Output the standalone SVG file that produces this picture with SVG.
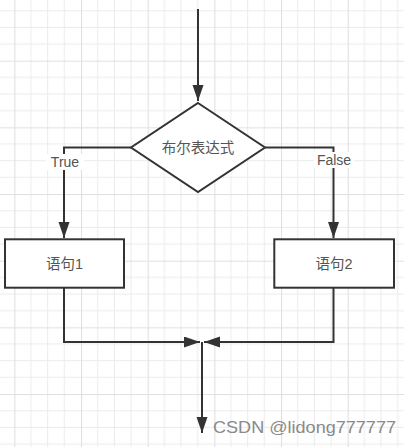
<svg xmlns="http://www.w3.org/2000/svg" width="404" height="447" viewBox="0 0 404 447">
<style>
.ln{fill:none;stroke:#333;stroke-width:2}
.shape{fill:#fff;stroke:#333;stroke-width:2}
.t{font-family:"Liberation Sans","Noto Sans CJK SC",sans-serif;font-size:14.5px;fill:#555;text-anchor:middle}
.lbl{font-family:"Liberation Sans",sans-serif;font-size:14px;fill:#555;text-anchor:middle}
</style>
<defs>
<pattern id="grid" patternUnits="userSpaceOnUse" x="14.33" y="-5.97" width="66.667" height="66.667">
<path d="M16.667 0V66.667M33.333 0V66.667M50 0V66.667M0 16.667H66.667M0 33.333H66.667M0 50H66.667" stroke="#ebebeb" stroke-width="1" fill="none"/>
<path d="M0.5 0V66.667M0 0.5H66.667" stroke="#e0e0e0" stroke-width="1.2" fill="none"/>
</pattern>
<marker id="ah" markerUnits="userSpaceOnUse" markerWidth="18" markerHeight="12" refX="16" refY="5.5" orient="auto">
<path d="M0 0L16 5.5L0 11Z" fill="#333"/>
</marker>
</defs>
<rect width="404" height="447" fill="#fff"/>
<rect width="404" height="447" fill="url(#grid)"/>
<g id="connectors">
<path class="ln" d="M198 9V101" marker-end="url(#ah)"/>
<path class="ln" d="M131 147.5H64V238" marker-end="url(#ah)"/>
<path class="ln" d="M265 147.5H333.5V238" marker-end="url(#ah)"/>
<path class="ln" d="M64 288V342H200" marker-end="url(#ah)"/>
<path class="ln" d="M333.5 288V342H204" marker-end="url(#ah)"/>
<path class="ln" d="M202 342V433" marker-end="url(#ah)"/>
<rect x="46" y="154" width="38" height="16" fill="#fff"/>
<text class="lbl" x="65" y="167">True</text>
<rect x="314" y="152" width="40" height="16" fill="#fff"/>
<text class="lbl" x="334" y="165">False</text>
</g>
<g id="decision">
<path class="shape" d="M198 103L265 147.5L198 192L131 147.5Z"/>
<text class="t" x="198" y="153">布尔表达式</text>
</g>
<g id="stmt1">
<rect class="shape" x="5" y="239.3" width="119" height="48.4"/>
<text class="t" x="64.5" y="269">语句1</text>
</g>
<g id="stmt2">
<rect class="shape" x="274.3" y="239.3" width="119.7" height="48.4"/>
<text class="t" x="334" y="269">语句2</text>
</g>
<text x="213" y="433" font-family="Liberation Sans,sans-serif" font-size="17" fill="#8a8a8a" textLength="183" lengthAdjust="spacingAndGlyphs">CSDN @lidong777777</text>
</svg>
